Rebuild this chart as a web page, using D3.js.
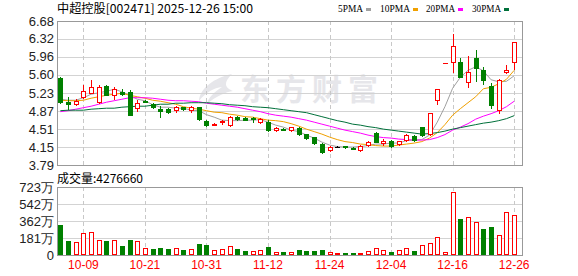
<!DOCTYPE html>
<html>
<head>
	<title>中超控股 日K</title>
	<meta charset="utf-8" />
	<script src="https://cdn.jsdelivr.net/npm/d3@7"></script>
	<style>
		body,
		html {
			margin: 0;
			padding: 0;
			background: #fff;
		}

		svg {
			display: block;
		}

		text {
			font-family: "Liberation Sans", Arial, sans-serif;
			font-size: 12px;
		}
	</style>
</head>

<body>
	<div id="chart"></div>
	<script>
		// trading days shown (MM-DD)
		var dates = ["09-26", "09-29", "09-30", "10-09", "10-10", "10-13", "10-14", "10-15", "10-16", "10-17",
			"10-20", "10-21", "10-22", "10-23", "10-24", "10-27", "10-28", "10-29", "10-30", "10-31",
			"11-03", "11-04", "11-05", "11-06", "11-07", "11-10", "11-11", "11-12", "11-13", "11-14",
			"11-17", "11-18", "11-19", "11-20", "11-21", "11-24", "11-25", "11-26", "11-27", "11-28",
			"12-01", "12-02", "12-03", "12-04", "12-05", "12-08", "12-09", "12-10", "12-11", "12-12",
			"12-15", "12-16", "12-17", "12-18", "12-19", "12-22", "12-23", "12-24", "12-25", "12-26"];

		var opens = [5.54, 5.06, 5.01, 5.16, 5.24, 5.05, 5.38, 5.19, 5.26, 5.26,
			4.93, 5.07, 5.01, 4.91, 4.91, 4.89, 4.95, 4.89, 4.95, 4.68,
			4.60, 4.65, 4.59, 4.76, 4.74, 4.73, 4.66, 4.66, 4.49, 4.52,
			4.49, 4.53, 4.41, 4.35, 4.21, 4.10, 4.16, 4.17, 4.14, 4.09,
			4.19, 4.43, 4.24, 4.27, 4.21, 4.29, 4.37, 4.55, 4.41, 5.09,
			5.84, 5.85, 5.86, 5.46, 5.94, 5.70, 5.38, 4.89, 5.66, 5.86];
		var highs = [5.56, 5.15, 5.12, 5.40, 5.50, 5.40, 5.39, 5.35, 5.32, 5.30,
			5.09, 5.09, 5.03, 4.97, 4.93, 4.97, 4.96, 4.97, 4.96, 4.69,
			4.63, 4.70, 4.78, 4.77, 4.76, 4.75, 4.74, 4.69, 4.55, 4.54,
			4.56, 4.55, 4.42, 4.36, 4.23, 4.18, 4.17, 4.18, 4.15, 4.19,
			4.27, 4.46, 4.31, 4.29, 4.28, 4.41, 4.40, 4.56, 4.83, 5.31,
			5.84, 6.42, 5.93, 5.98, 6.10, 5.76, 5.44, 5.51, 5.80, 6.26];
		var lows = [5.04, 4.91, 4.99, 5.13, 5.23, 5.03, 5.20, 5.11, 5.19, 4.79,
			4.88, 5.05, 4.93, 4.75, 4.84, 4.85, 4.90, 4.86, 4.70, 4.57,
			4.59, 4.62, 4.57, 4.69, 4.69, 4.65, 4.63, 4.47, 4.47, 4.49,
			4.47, 4.40, 4.32, 4.22, 4.04, 4.08, 4.15, 4.14, 4.11, 4.08,
			4.18, 4.25, 4.20, 4.15, 4.20, 4.28, 4.28, 4.37, 4.40, 5.01,
			5.84, 5.66, 5.56, 5.35, 5.48, 5.41, 4.94, 4.84, 5.63, 5.71];
		var closes = [5.05, 5.01, 5.07, 5.27, 5.35, 5.35, 5.20, 5.31, 5.21, 4.80,
			5.04, 5.06, 4.95, 4.87, 4.86, 4.95, 4.91, 4.95, 4.71, 4.59,
			4.62, 4.67, 4.75, 4.71, 4.70, 4.71, 4.72, 4.49, 4.53, 4.50,
			4.55, 4.41, 4.33, 4.23, 4.06, 4.16, 4.16, 4.15, 4.12, 4.17,
			4.25, 4.26, 4.27, 4.17, 4.27, 4.39, 4.30, 4.39, 4.83, 5.31,
			5.84, 6.18, 5.56, 5.65, 5.73, 5.50, 4.99, 5.49, 5.69, 6.26];
		var prevClose = 5.52; // close of the day before the window

		// volume, in 万 shares
		var volumes = [317, 148, 134, 229, 240, 155, 148, 155, 99, 159,
			145, 74, 64, 74, 64, 71, 53, 60, 116, 106,
			53, 60, 95, 64, 42, 39, 49, 85, 28, 28,
			28, 53, 42, 42, 53, 28, 18, 18, 18, 18,
			39, 71, 49, 32, 49, 71, 42, 102, 124, 190,
			28, 673, 381, 399, 356, 275, 296, 208, 452, 427.666];
		var lastVolume = "4276660";

		var ma5 = [5.11, 5.09, 5.09, 5.14, 5.21, 5.24, 5.27, 5.31, 5.26, 5.19,
			5.11, 5.08, 5.00, 4.95, 4.95, 4.93, 4.93, 4.89, 4.88, 4.80,
			4.75, 4.69, 4.68, 4.68, 4.69, 4.69, 4.70, 4.65, 4.59, 4.55,
			4.49, 4.46, 4.39, 4.33, 4.25, 4.19, 4.16, 4.15, 4.15, 4.16,
			4.18, 4.21, 4.21, 4.23, 4.23, 4.28, 4.29, 4.30, 4.39, 4.65,
			4.96, 5.33, 5.55, 5.69, 5.76, 5.68, 5.50, 5.46, 5.47, 5.58];
		var ma10 = [5.09, 5.08, 5.08, 5.09, 5.13, 5.16, 5.19, 5.21, 5.23, 5.19,
			5.16, 5.13, 5.09, 5.07, 5.04, 5.01, 4.96, 4.93, 4.91, 4.88,
			4.85, 4.84, 4.81, 4.79, 4.76, 4.75, 4.72, 4.69, 4.68, 4.66,
			4.62, 4.57, 4.51, 4.46, 4.41, 4.35, 4.30, 4.26, 4.24, 4.21,
			4.20, 4.18, 4.17, 4.17, 4.19, 4.21, 4.23, 4.26, 4.33, 4.44,
			4.60, 4.79, 4.92, 5.04, 5.16, 5.32, 5.35, 5.42, 5.51, 5.69];
		var ma20 = [4.86, 4.88, 4.91, 4.94, 4.97, 5.01, 5.05, 5.08, 5.11, 5.14,
			5.14, 5.14, 5.13, 5.11, 5.09, 5.08, 5.08, 5.07, 5.06, 5.03,
			5.01, 4.99, 4.97, 4.95, 4.92, 4.89, 4.86, 4.82, 4.79, 4.77,
			4.75, 4.72, 4.69, 4.65, 4.61, 4.57, 4.53, 4.49, 4.46, 4.43,
			4.39, 4.36, 4.34, 4.33, 4.31, 4.30, 4.29, 4.29, 4.30, 4.34,
			4.40, 4.49, 4.55, 4.62, 4.71, 4.77, 4.82, 4.88, 4.96, 5.07];
		var ma30 = [4.88, 4.89, 4.89, 4.89, 4.91, 4.92, 4.93, 4.93, 4.95, 4.96,
			4.97, 4.97, 4.99, 5.01, 5.01, 5.03, 5.03, 5.04, 5.04, 5.04,
			5.03, 5.02, 5.00, 4.99, 4.98, 4.96, 4.95, 4.94, 4.92, 4.90,
			4.88, 4.86, 4.84, 4.80, 4.76, 4.72, 4.68, 4.65, 4.61, 4.59,
			4.56, 4.54, 4.51, 4.49, 4.47, 4.45, 4.43, 4.41, 4.42, 4.44,
			4.47, 4.51, 4.54, 4.57, 4.60, 4.63, 4.65, 4.68, 4.72, 4.78];

		var maNames = ["5PMA", "10PMA", "20PMA", "30PMA"];
		var priceTicks = [3.79, 4.15, 4.51, 4.87, 5.23, 5.60, 5.96, 6.32, 6.68];
		var volumeTicks = [0, 181, 362, 542, 723];
		var dateTicks = ["10-09", "10-21", "10-31", "11-12", "11-24", "12-04", "12-16", "12-26"];

		var title = "中超控股[002471] 2025-12-26 15:00";

		// styles
		var upColor = "#ff0000",
			downColor = "#008000",
			maColors = ["#a0a0a0", "#f0a000", "#ff00ff", "#00703a"],
			gridColor = "#d3d3d3",
			frameColor = "#999999";

		var width = 578,
			height = 276;
		var left = 57,
			right = 522,
			priceTop = 21,
			priceBottom = 165,
			volTop = 187,
			volBottom = 255;

		var svg = d3.select("#chart").append("svg")
			.attr("width", width)
			.attr("height", height);

		var x = d3.scaleBand().domain(dates).range([56.5, 518]);
		var cx = function (d) { return x(d) + x.bandwidth() / 2; };

		var y = d3.scaleLinear().domain([3.79, 6.68]).range([priceBottom, priceTop]);
		var vy = d3.scaleLinear().domain([0, 723]).range([volBottom, volTop]);

		var rows = dates.map(function (d, i) {
			return {
				date: d, o: opens[i], h: highs[i], l: lows[i], c: closes[i],
				v: volumes[i], prev: i ? closes[i - 1] : prevClose
			};
		});

		function candleColor(r) {
			if (r.c > r.o) return upColor;
			if (r.c < r.o) return downColor;
			if (r.c > r.prev) return upColor;
			if (r.c < r.prev) return downColor;
			return "#000";
		}

		// watermark
		var wm = svg.append("g").attr("fill", "#e6e6ea");
		wm.append("path")
			.attr("d", "M232,74 C214,78 200,88 199,101 C206,92 214,88 222,87 C214,92 208,98 207,104 C216,96 226,92 233,91 C226,88 222,84 232,74 Z");
		wm.append("text")
			.attr("x", 240)
			.attr("y", 100)
			.attr("textLength", 138)
			.attr("lengthAdjust", "spacing")
			.style("font-family", "'Noto Sans CJK SC'")
			.style("font-weight", "bold")
			.style("font-size", "30px")
			.text("东方财富");

		// grids
		var grid = svg.append("g").attr("shape-rendering", "crispEdges");
		grid.selectAll(".hp").data(priceTicks.slice(1, -1)).enter().append("line")
			.attr("x1", left).attr("x2", right)
			.attr("y1", function (d) { return Math.round(y(d)) + 0.5; })
			.attr("y2", function (d) { return Math.round(y(d)) + 0.5; })
			.attr("stroke", gridColor);
		grid.selectAll(".hv").data(volumeTicks.slice(1, -1)).enter().append("line")
			.attr("x1", left).attr("x2", right)
			.attr("y1", function (d) { return Math.round(vy(d)) + 0.5; })
			.attr("y2", function (d) { return Math.round(vy(d)) + 0.5; })
			.attr("stroke", gridColor);
		[[priceTop, priceBottom], [volTop, volBottom]].forEach(function (p) {
			grid.selectAll(null).data(dateTicks).enter().append("line")
				.attr("x1", function (d) { return Math.round(cx(d)) + 0.5; })
				.attr("x2", function (d) { return Math.round(cx(d)) + 0.5; })
				.attr("y1", p[0]).attr("y2", p[1])
				.attr("stroke", "#c8c8c8")
				.attr("stroke-dasharray", "4,3");
		});

		// moving averages
		var line = d3.line()
			.x(function (d, i) { return cx(dates[i]); })
			.y(function (d) { return y(d); });
		svg.append("g").selectAll("path").data([ma5, ma10, ma20, ma30]).enter().append("path")
			.attr("d", line)
			.attr("fill", "none")
			.attr("stroke", function (d, i) { return maColors[i]; })
			.attr("stroke-width", 1);

		// candles
		var candles = svg.append("g").attr("shape-rendering", "crispEdges")
			.selectAll("g").data(rows).enter().append("g");
		candles.each(function (r) {
			var g = d3.select(this),
				col = candleColor(r),
				px = Math.round(cx(r.date)) - 2,
				wx = px + 2.5,
				yTop = Math.round(y(Math.max(r.o, r.c))),
				yBot = Math.round(y(Math.min(r.o, r.c))),
				yH = Math.round(y(r.h)),
				yL = Math.round(y(r.l));
			if (yBot - yTop < 1) {
				g.append("line").attr("x1", wx).attr("x2", wx).attr("y1", yH).attr("y2", yL + 1).attr("stroke", col);
				g.append("line").attr("x1", px).attr("x2", px + 5).attr("y1", yTop + 0.5).attr("y2", yTop + 0.5).attr("stroke", col);
			} else if (r.c > r.o) {
				g.append("line").attr("x1", wx).attr("x2", wx).attr("y1", yH).attr("y2", yTop).attr("stroke", col);
				g.append("line").attr("x1", wx).attr("x2", wx).attr("y1", yBot).attr("y2", yL + 1).attr("stroke", col);
				g.append("rect").attr("x", px + 0.5).attr("y", yTop + 0.5)
					.attr("width", 4).attr("height", yBot - yTop)
					.attr("fill", "#fff").attr("stroke", col);
			} else {
				g.append("line").attr("x1", wx).attr("x2", wx).attr("y1", yH).attr("y2", yL + 1).attr("stroke", col);
				g.append("rect").attr("x", px).attr("y", yTop)
					.attr("width", 5).attr("height", yBot - yTop + 1)
					.attr("fill", col);
			}
		});

		// volume bars
		svg.append("g").attr("shape-rendering", "crispEdges")
			.selectAll("rect").data(rows).enter().append("rect")
			.each(function (r) {
				var up = r.c >= r.prev,
					px = Math.round(cx(r.date)) - 2,
					top = Math.round(vy(r.v));
				var s = d3.select(this);
				if (up) {
					s.attr("x", px + 0.5).attr("y", top + 0.5)
						.attr("width", 4).attr("height", Math.max(0, volBottom - top - 1))
						.attr("fill", "#fff").attr("stroke", upColor);
				} else {
					s.attr("x", px).attr("y", top)
						.attr("width", 5).attr("height", volBottom - top)
						.attr("fill", downColor);
				}
			});

		// frames
		var frames = svg.append("g").attr("shape-rendering", "crispEdges");
		frames.append("rect").attr("x", left + 0.5).attr("y", priceTop + 0.5)
			.attr("width", right - left).attr("height", priceBottom - priceTop)
			.attr("fill", "none").attr("stroke", frameColor);
		frames.append("rect").attr("x", left + 0.5).attr("y", volTop + 0.5)
			.attr("width", right - left).attr("height", volBottom - volTop)
			.attr("fill", "none").attr("stroke", frameColor);

		// axis labels
		svg.append("g").selectAll("text").data(priceTicks).enter().append("text")
			.attr("x", 54)
			.attr("y", function (d) { return y(d); })
			.attr("dy", "0.35em")
			.attr("text-anchor", "end")
			.attr("fill", "#222")
			.style("font-size", "13px")
			.text(function (d) { return d.toFixed(2); });

		svg.append("g").selectAll("text").data(volumeTicks).enter().append("text")
			.attr("x", 54)
			.attr("y", function (d) { return vy(d); })
			.attr("dy", "0.35em")
			.attr("text-anchor", "end")
			.attr("fill", "#222")
			.style("font-size", "13px")
			.text(function (d) { return d ? d + "万" : "0"; });

		svg.append("g").selectAll("text").data(dateTicks).enter().append("text")
			.attr("x", function (d) { return cx(d); })
			.attr("y", 269)
			.attr("text-anchor", "middle")
			.attr("fill", upColor)
			.text(function (d) { return d; });

		// title, legend
		svg.append("text")
			.attr("x", 57)
			.attr("y", 13)
			.attr("textLength", 196)
			.attr("lengthAdjust", "spacingAndGlyphs")
			.attr("fill", "#000")
			.style("font-family", "'Noto Sans CJK SC'")
			.text(title);

		var legendX = [338, 380, 426, 472],
			legendW = [25, 30, 29, 29];
		var legend = svg.append("g").selectAll("g").data(maNames).enter().append("g");
		legend.append("text")
			.attr("x", function (d, i) { return legendX[i]; })
			.attr("y", 12)
			.attr("textLength", function (d, i) { return legendW[i]; })
			.attr("lengthAdjust", "spacingAndGlyphs")
			.attr("fill", "#000")
			.style("font-family", "'Liberation Serif'")
			.style("font-size", "11px")
			.text(function (d) { return d; });
		legend.append("rect")
			.attr("x", function (d, i) { return legendX[i] + legendW[i] + 3; })
			.attr("y", 8)
			.attr("width", 5)
			.attr("height", 3)
			.attr("fill", function (d, i) { return maColors[i]; });

		svg.append("text")
			.attr("x", 57)
			.attr("y", 183)
			.attr("fill", "#000")
			.style("font-family", "'Noto Sans CJK SC'")
			.text("成交量:" + lastVolume);
	</script>
</body>

</html>
